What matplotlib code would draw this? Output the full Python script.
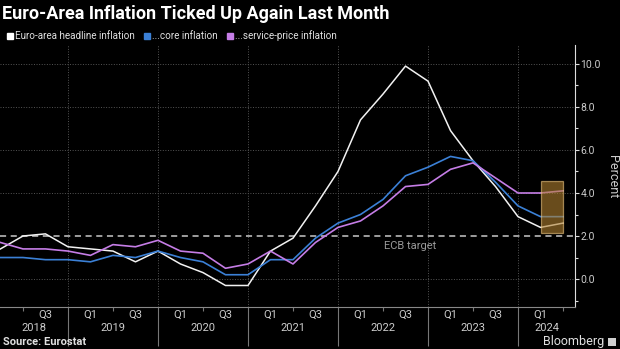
import matplotlib
matplotlib.use('Agg')
import matplotlib.pyplot as plt
from matplotlib.lines import Line2D
from matplotlib.patches import Rectangle
import matplotlib.ticker as ticker
import matplotlib.transforms as mtransforms

plt.rcParams['font.family'] = ['Roboto', 'DejaVu Sans']

# quarterly readings (quarter-end month), last one is the latest month (May 2024)
years = [2018]*4 + [2019]*4 + [2020]*4 + [2021]*4 + [2022]*4 + [2023]*4 + [2024]*2
quarters = [1, 2, 3, 4]*6 + [1, 2]
headline = [1.4, 2.0, 2.1, 1.5, 1.4, 1.3, 0.8, 1.3, 0.7, 0.3, -0.3, -0.3,
            1.3, 1.9, 3.4, 5.0, 7.4, 8.6, 9.9, 9.2, 6.9, 5.5, 4.3, 2.9, 2.4, 2.6]
core = [1.0, 1.0, 0.9, 0.9, 0.8, 1.1, 1.0, 1.3, 1.0, 0.8, 0.2, 0.2,
        0.9, 0.9, 1.9, 2.6, 3.0, 3.7, 4.8, 5.2, 5.7, 5.5, 4.5, 3.4, 2.9, 2.9]
services = [1.7, 1.4, 1.4, 1.3, 1.1, 1.6, 1.5, 1.8, 1.3, 1.2, 0.5, 0.7,
            1.3, 0.7, 1.7, 2.4, 2.7, 3.4, 4.3, 4.4, 5.1, 5.4, 4.7, 4.0, 4.0, 4.1]
ecb_target = 2.0
box_x = (2024.25, 2024.5)
box_y = (2.15, 4.55)

year_labels = ['2018', '2019', '2020', '2021', '2022', '2023', '2024']
half_labels = ['Q1', 'Q3']

x = [y + q*0.25 for y, q in zip(years, quarters)]

bg = '#000000'
fig = plt.figure(figsize=(6.2, 3.49), dpi=100, facecolor=bg)
ax = fig.add_axes([0, 1-307/349, 575/620, (307-45)/349], facecolor=bg)

ax.set_xlim(2018.245, 2024.633)
ax.set_ylim(-1.3, 10.88)

ax.plot(x, headline, color='#f2f2f2', lw=1.1, zorder=3)
ax.plot(x, core, color='#3b80d6', lw=1.2, zorder=3)
ax.plot(x, services, color='#c57de6', lw=1.2, zorder=3)

ax.axhline(ecb_target, color='#c8c8c8', lw=1.1, ls=(0, (4, 3)), zorder=2)
ax.text(2022.8, ecb_target - 0.25, 'ECB target', color='#9a9a9a', fontsize=8,
        ha='center', va='top')

ax.add_patch(Rectangle((box_x[0], box_y[0]), box_x[1]-box_x[0], box_y[1]-box_y[0],
                       facecolor='#b08030', alpha=0.6, edgecolor='#f0c880', lw=0.9, zorder=4))

# y axis on the right
for s in ['top', 'left']:
    ax.spines[s].set_visible(False)
ax.spines['right'].set_color('#dddddd')
ax.spines['bottom'].set_color('#888888')
ax.yaxis.tick_right()
ax.yaxis.set_label_position('right')
ax.yaxis.set_major_locator(ticker.MultipleLocator(2))
ax.yaxis.set_minor_locator(ticker.MultipleLocator(1))
ax.yaxis.set_major_formatter(ticker.FormatStrFormatter('%.1f'))
ax.tick_params(axis='y', which='both', colors='#dddddd', labelcolor='#cccccc',
               labelsize=7.5, length=3, width=0.8, pad=1)
ax.tick_params(axis='y', which='minor', length=2)
ax.set_ylabel('Percent', color='#cccccc', fontsize=9, rotation=270, va='center')
ax.yaxis.set_label_coords(612/575, (307-177)/262)

# x axis: long ticks at year boundaries, short ticks at half-years
ax.set_xticks(range(2019, 2025))
ax.set_xticks([y + 0.5 for y in range(2018, 2025)], minor=True)
ax.tick_params(axis='x', which='major', length=28, color='#777777', width=0.8, labelbottom=False)
ax.tick_params(axis='x', which='minor', length=3, color='#777777', width=0.8)

ax.grid(axis='x', which='major', color='#555555', ls=':', lw=0.7)
for v in [0, 4, 6, 8, 10]:
    ax.axhline(v, color='#555555', ls=':', lw=0.7, zorder=1)

trans = mtransforms.blended_transform_factory(ax.transData, fig.transFigure)
for i, yl in enumerate(year_labels):
    yr = int(yl)
    lo = max(yr, ax.get_xlim()[0])
    hi = min(yr + 1, ax.get_xlim()[1])
    ax.text((lo + hi)/2, 1-328/349, yl, transform=trans, color='#cccccc',
            fontsize=8, ha='center', va='center')
    for j, ql in enumerate(half_labels):
        xc = yr + 0.25 + 0.5*j
        if ax.get_xlim()[0] + 0.1 < xc < ax.get_xlim()[1]:
            ax.text(xc, 1-315/349, ql, transform=trans, color='#cccccc',
                    fontsize=8, ha='center', va='center')

fig.text(0.003, 1-14/349, 'Euro-Area Inflation Ticked Up Again Last Month', color='white',
         fontsize=13, fontweight='bold', va='center', ha='left')

handles = [Line2D([], [], marker='s', ls='none', color=c, markersize=5)
           for c in ['#ffffff', '#3b80d6', '#c57de6']]
fig.legend(handles, ['Euro-area headline inflation', '...core inflation', '...service-price inflation'],
           loc='center left', bbox_to_anchor=(0.008, 1-36/349), ncol=3, frameon=False,
           fontsize=7.1, labelcolor='#e0e0e0', handlelength=0.6, handletextpad=0.25,
           columnspacing=0.9, borderaxespad=0, borderpad=0.2)

fig.text(0.005, 1-342/349, 'Source: Eurostat', color='#e0e0e0', fontsize=8,
         fontweight='bold', va='center', ha='left')
fig.text(0.975, 1-342/349, 'Bloomberg', color='#e0e0e0', fontsize=9,
         va='center', ha='right')
fig.patches.append(Rectangle((0.980, 1-346/349), 0.014, 8/349, transform=fig.transFigure,
                             facecolor='#d0d0d0', edgecolor='none'))

fig.savefig('out.png', dpi=100, facecolor=bg)
